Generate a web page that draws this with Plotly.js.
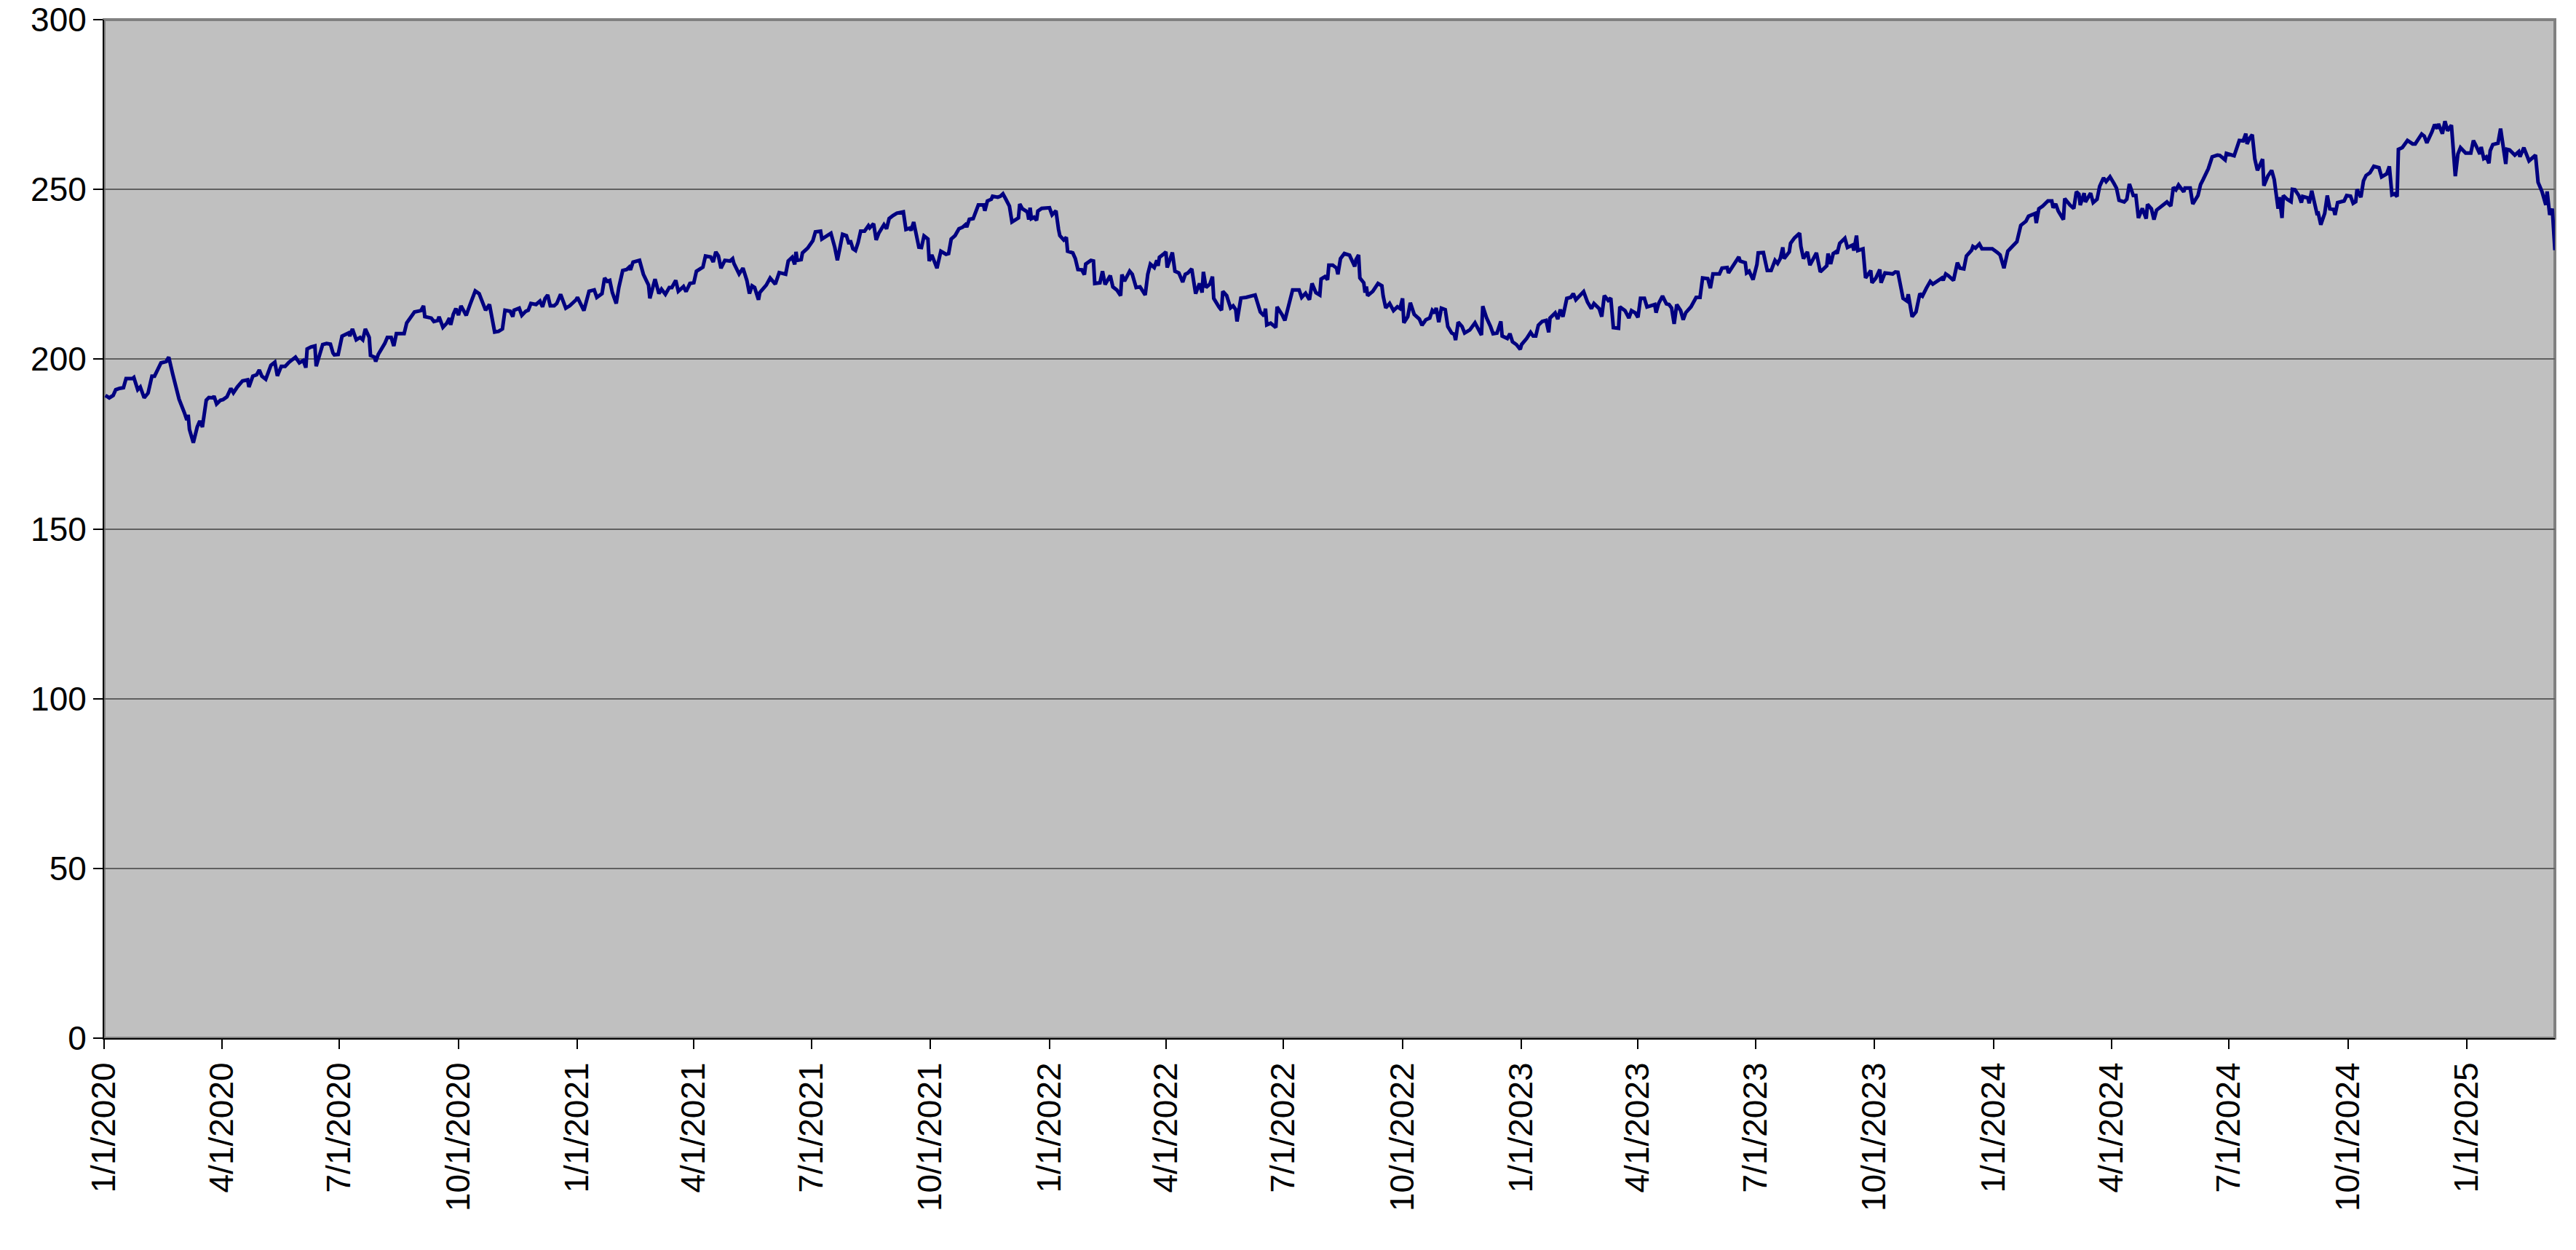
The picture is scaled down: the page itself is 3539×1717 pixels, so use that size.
<!DOCTYPE html>
<html>
<head>
<meta charset="utf-8">
<script src="https://cdn.plot.ly/plotly-3.0.1.min.js"></script>
<style>
  html, body { margin: 0; padding: 0; background: #fff; }
  #chart { width: 3539px; height: 1717px; }
</style>
</head>
<body>
<div id="chart"></div>
<script>
// values, one pair of arrays per year
var dates2020 = ['2020-01-02','2020-01-05','2020-01-08','2020-01-10','2020-01-13','2020-01-16','2020-01-18','2020-01-23','2020-01-24','2020-01-27','2020-01-29',
  '2020-02-01','2020-02-04','2020-02-07','2020-02-09','2020-02-12','2020-02-14','2020-02-18','2020-02-20','2020-02-23','2020-02-26','2020-02-28',
  '2020-03-03','2020-03-05','2020-03-06','2020-03-07','2020-03-10','2020-03-13','2020-03-15','2020-03-17','2020-03-20','2020-03-22','2020-03-25','2020-03-26','2020-03-28','2020-03-31',
  '2020-04-02','2020-04-05','2020-04-08','2020-04-10','2020-04-13','2020-04-17','2020-04-21','2020-04-22','2020-04-25','2020-04-28','2020-04-30',
  '2020-05-02','2020-05-05','2020-05-09','2020-05-12','2020-05-14','2020-05-17','2020-05-20','2020-05-23','2020-05-28','2020-05-31',
  '2020-06-03','2020-06-05','2020-06-06','2020-06-09','2020-06-12','2020-06-13','2020-06-15','2020-06-18','2020-06-21','2020-06-24','2020-06-26','2020-06-27','2020-06-30',
  '2020-07-03','2020-07-08','2020-07-09','2020-07-11','2020-07-14','2020-07-17','2020-07-19','2020-07-21','2020-07-24','2020-07-25','2020-07-28','2020-07-29','2020-07-31',
  '2020-08-05','2020-08-07','2020-08-10','2020-08-12','2020-08-14','2020-08-20','2020-08-22','2020-08-26','2020-08-28',
  '2020-09-02','2020-09-04','2020-09-05','2020-09-10','2020-09-12','2020-09-15','2020-09-16','2020-09-19','2020-09-22','2020-09-24','2020-09-25','2020-09-27','2020-09-29',
  '2020-10-01','2020-10-03','2020-10-05','2020-10-07','2020-10-10','2020-10-14','2020-10-17','2020-10-20','2020-10-22','2020-10-25','2020-10-27','2020-10-29',
  '2020-11-01','2020-11-04','2020-11-06','2020-11-10','2020-11-12','2020-11-13','2020-11-17','2020-11-19','2020-11-22','2020-11-24','2020-11-26','2020-11-30',
  '2020-12-03','2020-12-05','2020-12-07','2020-12-09','2020-12-11','2020-12-14','2020-12-16','2020-12-19','2020-12-23','2020-12-26','2020-12-31'];
var vals2020 = [189.3,188.6,189.3,191.0,191.4,191.6,194.3,194.3,194.6,191.0,191.8,
  188.6,190.0,195.0,195.0,197.1,198.9,199.3,200.6,195.7,191.4,188.2,
  184.3,182.1,183.6,179.3,175.4,180.0,181.8,180.0,187.9,188.7,188.6,189.1,186.8,187.9,
  188.1,188.9,191.4,190.1,191.8,193.6,193.9,191.8,195.0,195.4,196.8,
  195.0,194.1,198.2,199.1,195.1,197.9,197.9,199.1,200.6,198.9,
  199.6,197.5,203.0,203.6,203.9,197.9,200.4,204.3,204.6,204.4,201.8,201.3,201.4,
  206.8,207.7,206.8,208.9,205.7,206.4,205.7,208.9,206.4,201.1,200.6,199.3,201.4,
  204.6,206.4,206.4,203.9,207.5,207.5,210.7,212.7,213.9,
  214.3,215.7,212.5,212.1,211.1,211.4,212.5,209.4,210.6,212.1,210.1,213.2,214.9,
  213.0,215.7,214.3,212.9,216.1,220.1,219.3,216.4,214.4,216.1,212.1,208.0,
  208.2,208.9,214.4,214.1,212.5,214.4,215.0,212.9,214.1,214.4,216.4,216.1,
  217.1,215.4,217.9,218.9,215.7,215.7,216.4,219.1,215.0,215.7,217.5];

var dates2021 = ['2021-01-01','2021-01-06','2021-01-10','2021-01-14','2021-01-16','2021-01-20','2021-01-22','2021-01-24','2021-01-26','2021-01-28','2021-01-31',
  '2021-02-02','2021-02-05','2021-02-08','2021-02-10','2021-02-11','2021-02-13','2021-02-18','2021-02-21','2021-02-25','2021-02-26',
  '2021-03-02','2021-03-05','2021-03-07','2021-03-10','2021-03-13','2021-03-15','2021-03-18','2021-03-20','2021-03-24','2021-03-26','2021-03-29',
  '2021-04-01','2021-04-03','2021-04-08','2021-04-10','2021-04-14','2021-04-16','2021-04-18','2021-04-20','2021-04-22','2021-04-25','2021-04-29',
  '2021-05-01','2021-05-02','2021-05-06','2021-05-09','2021-05-12','2021-05-14','2021-05-16','2021-05-18','2021-05-21','2021-05-22','2021-05-27','2021-05-30',
  '2021-06-03','2021-06-06','2021-06-11','2021-06-13','2021-06-16','2021-06-18','2021-06-19','2021-06-20','2021-06-23','2021-06-24','2021-06-28',
  '2021-07-02','2021-07-04','2021-07-08','2021-07-09','2021-07-15','2021-07-16','2021-07-19','2021-07-21','2021-07-23','2021-07-25','2021-07-28','2021-07-30','2021-07-31',
  '2021-08-02','2021-08-04','2021-08-06','2021-08-08','2021-08-11','2021-08-14','2021-08-15','2021-08-18','2021-08-20','2021-08-22','2021-08-26','2021-08-28','2021-08-30',
  '2021-09-02','2021-09-05','2021-09-10','2021-09-12','2021-09-15','2021-09-16','2021-09-18','2021-09-22','2021-09-24','2021-09-26','2021-09-29','2021-09-30',
  '2021-10-02','2021-10-04','2021-10-06','2021-10-09','2021-10-13','2021-10-15','2021-10-17','2021-10-20','2021-10-23','2021-10-26','2021-10-28','2021-10-29','2021-10-31',
  '2021-11-03','2021-11-07','2021-11-11','2021-11-12','2021-11-14','2021-11-17','2021-11-18','2021-11-22','2021-11-24','2021-11-26','2021-11-28',
  '2021-12-01','2021-12-03','2021-12-08','2021-12-09','2021-12-11','2021-12-14','2021-12-15','2021-12-16','2021-12-17','2021-12-18','2021-12-20','2021-12-22','2021-12-23','2021-12-26'];
var vals2021 = [218.2,214.3,220.0,220.4,218.2,219.3,223.9,222.9,223.2,219.6,216.4,
  221.1,226.1,226.4,227.1,226.3,228.6,229.1,225.0,221.8,217.9,
  223.6,219.3,220.6,219.1,221.1,221.1,223.2,220.0,221.4,219.9,222.3,
  222.5,225.9,227.1,230.4,230.1,228.6,231.6,230.4,226.8,229.1,228.9,
  229.6,228.2,225.1,226.8,223.2,219.3,221.6,221.1,217.5,219.6,221.8,223.9,
  222.1,225.5,225.0,228.9,230.0,227.9,231.6,229.1,229.3,231.3,232.7,
  234.9,237.5,237.7,235.4,237.0,237.1,232.9,229.1,232.9,236.8,236.4,233.9,235.0,
  232.5,232.0,234.3,237.7,237.7,239.3,238.7,239.9,235.1,237.1,239.6,238.4,241.4,
  242.3,243.0,243.4,238.2,238.6,237.9,240.4,233.0,232.9,236.3,235.4,228.9,
  230.7,228.9,226.8,231.8,230.9,231.1,235.4,236.4,238.4,238.9,239.6,238.9,241.2,
  241.4,245.4,245.4,243.7,246.6,247.1,248.0,247.7,248.0,248.7,247.3,
  245.1,240.4,241.6,245.7,244.3,243.6,243.2,241.1,244.6,241.4,241.8,240.9,243.6,244.4];

var dates2022 = ['2022-01-01','2022-01-03','2022-01-06','2022-01-08','2022-01-09','2022-01-12','2022-01-14','2022-01-15','2022-01-19','2022-01-21','2022-01-23','2022-01-26','2022-01-28','2022-01-29',
  '2022-02-02','2022-02-04','2022-02-05','2022-02-09','2022-02-11','2022-02-13','2022-02-17','2022-02-19','2022-02-22','2022-02-25','2022-02-26','2022-02-28',
  '2022-03-04','2022-03-06','2022-03-09','2022-03-12','2022-03-16','2022-03-18','2022-03-20','2022-03-23','2022-03-25','2022-03-26','2022-03-27','2022-03-30',
  '2022-04-01','2022-04-02','2022-04-04','2022-04-06','2022-04-08','2022-04-11','2022-04-14','2022-04-16','2022-04-18','2022-04-21','2022-04-24','2022-04-27','2022-04-29','2022-04-30',
  '2022-05-02','2022-05-05','2022-05-07','2022-05-08','2022-05-12','2022-05-14','2022-05-15','2022-05-18','2022-05-21','2022-05-23','2022-05-25','2022-05-26','2022-05-29',
  '2022-06-02','2022-06-09','2022-06-13','2022-06-16','2022-06-17','2022-06-18','2022-06-21','2022-06-25','2022-06-26','2022-06-30',
  '2022-07-02','2022-07-08','2022-07-13','2022-07-15','2022-07-18','2022-07-21','2022-07-23','2022-07-26','2022-07-29','2022-07-30',
  '2022-08-02','2022-08-04','2022-08-05','2022-08-08','2022-08-11','2022-08-12','2022-08-14','2022-08-17','2022-08-21','2022-08-25','2022-08-26','2022-08-28','2022-08-29',
  '2022-09-01','2022-09-02','2022-09-03','2022-09-04','2022-09-08','2022-09-12','2022-09-15','2022-09-16','2022-09-18','2022-09-21','2022-09-24','2022-09-27','2022-09-29',
  '2022-10-01','2022-10-02','2022-10-05','2022-10-07','2022-10-10','2022-10-14','2022-10-16','2022-10-19','2022-10-22','2022-10-24','2022-10-26','2022-10-27','2022-10-29','2022-10-31',
  '2022-11-03','2022-11-05','2022-11-08','2022-11-10','2022-11-11','2022-11-13','2022-11-16','2022-11-18','2022-11-22','2022-11-26',
  '2022-12-01','2022-12-02','2022-12-05','2022-12-08','2022-12-10','2022-12-13','2022-12-16','2022-12-17','2022-12-21','2022-12-23','2022-12-25','2022-12-28','2022-12-31'];
var vals2022 = [244.6,242.5,243.7,238.2,236.4,235.1,235.9,231.8,231.3,229.6,226.4,226.3,224.9,228.0,
  229.1,228.9,222.3,222.5,225.9,222.0,224.6,221.3,220.4,218.7,224.9,223.0,
  225.9,225.0,221.1,221.3,218.9,225.0,228.0,227.0,229.1,227.5,230.0,230.9,
  231.6,227.0,229.6,231.4,225.9,225.4,222.7,225.0,225.4,226.6,219.3,222.3,219.6,225.7,
  221.1,222.1,224.3,217.9,215.4,214.4,220.0,218.7,215.1,215.7,214.6,211.1,218.0,
  218.2,218.9,213.9,212.7,214.9,210.1,210.6,209.3,215.4,213.0,
  211.4,220.4,220.4,218.2,219.4,217.5,222.3,219.6,218.9,223.6,
  224.3,223.4,227.7,227.7,226.8,225.0,229.6,231.1,230.6,227.3,229.3,230.7,223.9,
  222.5,219.6,221.4,218.7,220.0,222.3,221.6,218.6,215.1,216.4,214.3,215.4,214.9,
  217.9,210.7,212.5,216.6,213.2,211.8,210.0,211.6,212.1,214.4,213.6,215.1,210.9,215.0,
  214.6,209.6,207.7,207.3,205.6,210.9,209.6,207.7,208.6,210.7,
  207.1,215.6,212.1,209.6,207.5,207.7,211.1,206.8,206.1,207.5,205.1,204.3,202.9];

var dates2023 = ['2023-01-01','2023-01-05','2023-01-08','2023-01-10','2023-01-12','2023-01-14','2023-01-17','2023-01-20','2023-01-22','2023-01-23','2023-01-27','2023-01-29','2023-01-31',
  '2023-02-02','2023-02-05','2023-02-08','2023-02-10','2023-02-12','2023-02-18','2023-02-21','2023-02-24','2023-02-26',
  '2023-03-02','2023-03-04','2023-03-06','2023-03-09','2023-03-11','2023-03-13','2023-03-17','2023-03-18','2023-03-22','2023-03-25','2023-03-27','2023-03-30',
  '2023-04-01','2023-04-03','2023-04-06','2023-04-08','2023-04-14','2023-04-15','2023-04-17','2023-04-20','2023-04-23','2023-04-25','2023-04-27','2023-04-29',
  '2023-05-01','2023-05-04','2023-05-06','2023-05-08','2023-05-12','2023-05-16','2023-05-19','2023-05-21','2023-05-25','2023-05-27','2023-05-29',
  '2023-06-03','2023-06-05','2023-06-09','2023-06-10','2023-06-14','2023-06-16','2023-06-18','2023-06-19','2023-06-23','2023-06-24','2023-06-26','2023-06-29',
  '2023-07-02','2023-07-03','2023-07-07','2023-07-10','2023-07-13','2023-07-16','2023-07-18','2023-07-20','2023-07-22','2023-07-23','2023-07-27','2023-07-28','2023-07-31',
  '2023-08-04','2023-08-05','2023-08-07','2023-08-10','2023-08-12','2023-08-17','2023-08-20','2023-08-25','2023-08-26','2023-08-28','2023-08-30',
  '2023-09-01','2023-09-02','2023-09-04','2023-09-08','2023-09-10','2023-09-14','2023-09-15','2023-09-17','2023-09-18','2023-09-22','2023-09-24','2023-09-28','2023-09-29',
  '2023-10-02','2023-10-05','2023-10-06','2023-10-09','2023-10-15','2023-10-17','2023-10-19','2023-10-23','2023-10-26','2023-10-27','2023-10-30',
  '2023-11-02','2023-11-05','2023-11-07','2023-11-10','2023-11-13','2023-11-15','2023-11-18','2023-11-22','2023-11-23','2023-11-25','2023-11-27',
  '2023-12-01','2023-12-04','2023-12-06','2023-12-09','2023-12-11','2023-12-15','2023-12-16','2023-12-18','2023-12-21','2023-12-23','2023-12-31'];
var vals2023 = [204.3,206.1,207.9,206.8,206.8,210.0,211.1,211.4,207.9,212.1,213.6,211.8,214.6,
  212.5,217.9,218.2,219.3,217.5,219.9,216.8,214.9,216.4,
  214.9,212.5,218.7,217.3,218.0,209.3,209.1,215.4,214.3,212.1,214.3,213.6,
  212.3,217.9,217.9,215.4,216.1,213.7,216.4,218.6,216.3,216.1,215.1,210.4,
  216.1,214.3,211.6,213.7,215.4,218.2,218.2,223.9,223.7,220.9,225.1,
  225.1,226.8,227.0,225.4,227.9,229.3,230.1,228.9,228.4,225.4,225.9,223.4,
  227.9,231.3,231.4,226.1,226.1,229.1,228.2,229.6,232.9,229.6,231.6,234.1,235.7,
  237.1,233.2,229.6,231.6,227.7,231.3,225.7,227.5,231.1,228.0,231.1,
  231.6,231.1,234.1,235.6,232.9,233.6,232.0,236.4,232.0,232.5,223.9,226.1,222.5,
  223.9,226.4,222.5,225.4,225.1,225.7,225.6,217.9,217.1,219.1,212.5,
  213.9,219.3,218.6,220.9,222.9,222.1,223.0,223.9,223.2,225.1,224.6,
  223.2,228.4,226.8,226.6,230.4,232.1,233.2,232.7,233.9,232.5,232.5];

var dates2024 = ['2024-01-04','2024-01-06','2024-01-09','2024-01-12','2024-01-16','2024-01-19','2024-01-22','2024-01-26','2024-01-28',
  '2024-02-02','2024-02-03','2024-02-05','2024-02-08','2024-02-12','2024-02-15','2024-02-16','2024-02-18','2024-02-20','2024-02-24','2024-02-25','2024-02-29',
  '2024-03-03','2024-03-05','2024-03-07','2024-03-08','2024-03-11','2024-03-12','2024-03-16','2024-03-18','2024-03-21','2024-03-23','2024-03-26','2024-03-28','2024-03-31',
  '2024-04-03','2024-04-05','2024-04-07','2024-04-11','2024-04-13','2024-04-15','2024-04-18','2024-04-20','2024-04-22','2024-04-25','2024-04-28','2024-04-29',
  '2024-05-02','2024-05-04','2024-05-06','2024-05-12','2024-05-14','2024-05-17','2024-05-19','2024-05-21','2024-05-23','2024-05-27','2024-05-28',
  '2024-06-01','2024-06-03','2024-06-07','2024-06-09','2024-06-11','2024-06-15','2024-06-18','2024-06-22','2024-06-24','2024-06-28','2024-06-29',
  '2024-07-05','2024-07-09','2024-07-12','2024-07-14','2024-07-15','2024-07-17','2024-07-19','2024-07-21','2024-07-23','2024-07-27','2024-07-28','2024-07-31',
  '2024-08-03','2024-08-05','2024-08-08','2024-08-09','2024-08-11','2024-08-12','2024-08-15','2024-08-18','2024-08-19','2024-08-21','2024-08-24','2024-08-26','2024-08-27','2024-08-31',
  '2024-09-01','2024-09-03','2024-09-07','2024-09-08','2024-09-10','2024-09-13','2024-09-15','2024-09-17','2024-09-20','2024-09-21','2024-09-23','2024-09-28','2024-09-30',
  '2024-10-03','2024-10-05','2024-10-07','2024-10-08','2024-10-11','2024-10-13','2024-10-15','2024-10-18','2024-10-21','2024-10-25','2024-10-27','2024-10-31',
  '2024-11-02','2024-11-04','2024-11-06','2024-11-08','2024-11-09','2024-11-12','2024-11-16','2024-11-20','2024-11-22','2024-11-25','2024-11-27','2024-11-29',
  '2024-12-01','2024-12-05','2024-12-07','2024-12-09','2024-12-10','2024-12-13','2024-12-15','2024-12-17','2024-12-20','2024-12-23','2024-12-25','2024-12-27','2024-12-31'];
var vals2024 = [231.4,230.7,226.8,231.8,233.4,234.6,239.4,240.6,242.1,
  242.9,240.1,244.3,245.1,246.6,246.6,244.6,245.7,243.6,241.1,247.3,245.4,
  244.4,249.3,248.6,245.4,248.9,246.3,248.9,246.1,247.1,250.9,253.4,252.3,253.7,
  251.8,250.4,246.8,246.3,247.1,251.6,248.2,248.2,241.6,244.4,241.4,245.6,
  244.3,241.1,243.9,245.7,246.3,245.1,250.6,249.9,251.3,249.3,250.4,
  250.4,245.7,248.2,251.4,252.9,256.1,259.6,260.1,260.0,258.7,260.6,
  259.9,264.4,264.3,266.4,263.4,265.1,266.1,258.9,255.6,258.9,251.1,253.9,
  255.6,252.9,244.3,247.7,241.6,248.2,247.1,246.4,250.0,249.9,248.2,246.1,247.9,247.5,
  245.9,249.6,242.9,243.0,239.6,242.9,248.2,244.3,244.1,242.5,246.1,246.6,248.2,
  248.0,245.9,246.4,250.0,247.7,252.5,254.1,254.9,256.8,256.4,253.7,254.6,
  256.8,248.4,248.7,247.9,261.8,262.3,264.4,263.4,263.4,265.4,266.3,265.7,
  263.7,267.0,269.1,267.9,269.3,266.4,270.1,267.3,268.9,253.9,260.4,262.3,260.7];

var dates2025 = ['2025-01-04','2025-01-06','2025-01-08','2025-01-11','2025-01-12','2025-01-14','2025-01-16','2025-01-18','2025-01-19','2025-01-21','2025-01-25','2025-01-27','2025-01-31',
  '2025-02-01','2025-02-03','2025-02-07','2025-02-10','2025-02-11','2025-02-14','2025-02-18','2025-02-23','2025-02-25','2025-02-28',
  '2025-03-03','2025-03-04','2025-03-06','2025-03-08','2025-03-10'];
var vals2025 = [260.7,264.4,262.9,260.4,262.5,259.1,259.6,257.7,261.4,263.2,263.6,267.9,257.5,
  261.8,261.6,260.1,261.1,259.6,262.3,258.4,260.1,252.1,249.4,
  245.4,249.4,242.5,244.3,232.1];

var tickDates = ['2020-01-01','2020-04-01','2020-07-01','2020-10-01','2021-01-01','2021-04-01','2021-07-01','2021-10-01',
  '2022-01-01','2022-04-01','2022-07-01','2022-10-01','2023-01-01','2023-04-01','2023-07-01','2023-10-01',
  '2024-01-01','2024-04-01','2024-07-01','2024-10-01','2025-01-01'];
var tickLabels = ['1/1/2020','4/1/2020','7/1/2020','10/1/2020','1/1/2021','4/1/2021','7/1/2021','10/1/2021',
  '1/1/2022','4/1/2022','7/1/2022','10/1/2022','1/1/2023','4/1/2023','7/1/2023','10/1/2023',
  '1/1/2024','4/1/2024','7/1/2024','10/1/2024','1/1/2025'];
var yTicks = [0,50,100,150,200,250,300];

var dates = dates2020.concat(dates2021, dates2022, dates2023, dates2024, dates2025);
var vals = vals2020.concat(vals2021, vals2022, vals2023, vals2024, vals2025);

var trace = {
    x:dates,
    y:vals,
    type:'scatter',
    mode:'lines',
    line:{
        color:'#000080',
        width:5
    },
    hoverinfo:'skip'
}

var tickFont = {family:'"Liberation Sans", Arial, sans-serif', size:46, color:'#000'};

var layout = {
    width:3539,
    height:1717,
    margin:{l:143, r:29, t:27, b:291},
    paper_bgcolor:'#ffffff',
    plot_bgcolor:'#c0c0c0',
    showlegend:false,
    xaxis:{
        type:'date',
        range:['2020-01-01','2025-03-10'],
        tickmode:'array',
        tickvals:tickDates,
        ticktext:tickLabels,
        tickangle:-90,
        tickfont:tickFont,
        ticks:'outside',
        ticklen:13,
        tickwidth:2,
        tickcolor:'#000',
        showgrid:false,
        zeroline:false,
        showline:true,
        linecolor:'#000',
        linewidth:2
    },
    yaxis:{
        range:[0,300],
        tickmode:'array',
        tickvals:yTicks,
        tickfont:tickFont,
        ticks:'outside',
        ticklen:13,
        tickwidth:2,
        tickcolor:'#000',
        showgrid:true,
        gridcolor:'#606060',
        gridwidth:2,
        zeroline:false,
        showline:true,
        linecolor:'#000',
        linewidth:2
    },
    shapes:[{
        type:'rect',
        xref:'paper', yref:'paper',
        x0:0, x1:1, y0:0, y1:1,
        line:{color:'#808080', width:4},
        layer:'below'
    }]
}

Plotly.newPlot('chart', [trace], layout, {displayModeBar:false, staticPlot:true});
</script>
</body>
</html>
